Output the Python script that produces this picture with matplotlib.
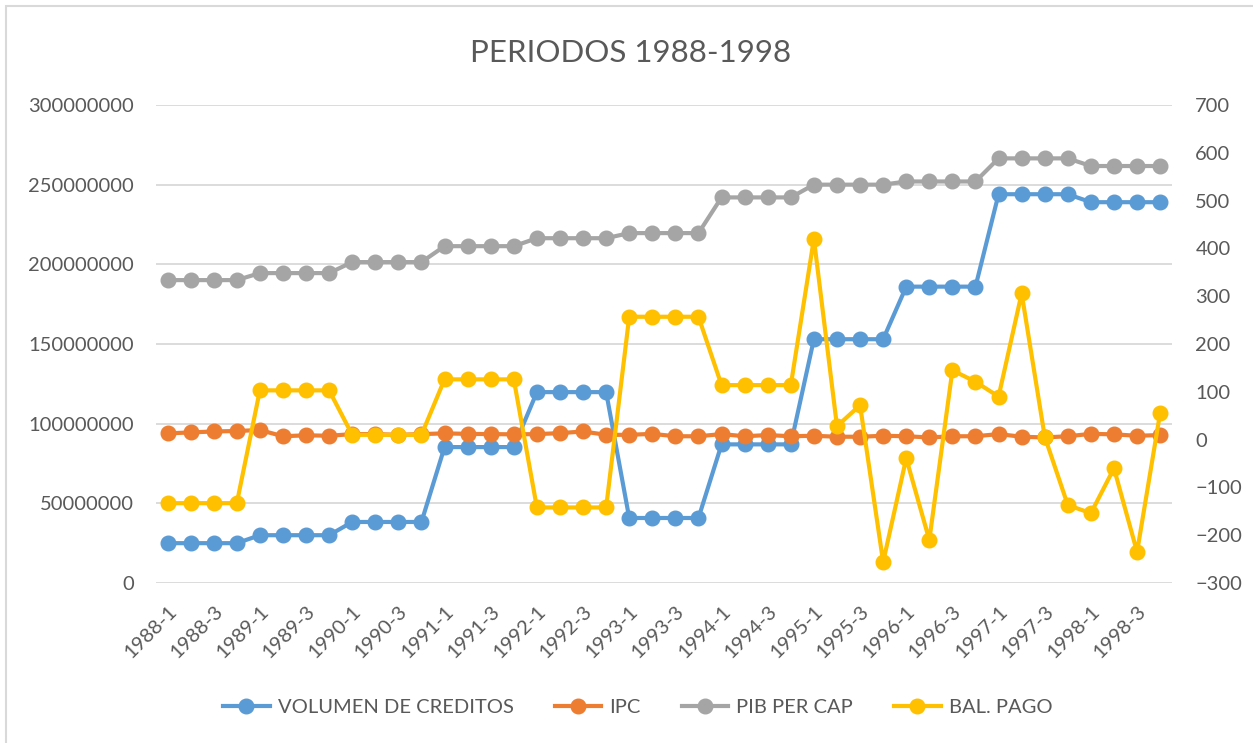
import matplotlib
matplotlib.use("Agg")
import matplotlib.pyplot as plt
from matplotlib.patches import Rectangle
from matplotlib.ticker import MultipleLocator, FuncFormatter

plt.rcParams['font.family'] = ['Lato', 'DejaVu Sans']

# quarters 1988-1 .. 1998-4
years = list(range(1988, 1999))
periodos = [f"{y}-{q}" for y in years for q in (1, 2, 3, 4)]

volumen = [25e6, 25e6, 25e6, 25e6,
           30e6, 30e6, 30e6, 30e6,
           38.3e6, 38.3e6, 38.3e6, 38.3e6,
           85.3e6, 85.3e6, 85.3e6, 85.3e6,
           119.8e6, 119.8e6, 119.8e6, 119.8e6,
           40.8e6, 40.8e6, 40.8e6, 40.8e6,
           87e6, 87e6, 87e6, 87e6,
           153e6, 153e6, 153e6, 153e6,
           186e6, 186e6, 186e6, 186e6,
           244e6, 244e6, 244e6, 244e6,
           239e6, 239e6, 239e6, 239e6]

pib = [190.1e6, 190.1e6, 190.1e6, 190.1e6,
       194.5e6, 194.5e6, 194.5e6, 194.5e6,
       201.4e6, 201.4e6, 201.4e6, 201.4e6,
       211.4e6, 211.4e6, 211.4e6, 211.4e6,
       216.4e6, 216.4e6, 216.4e6, 216.4e6,
       219.6e6, 219.6e6, 219.6e6, 219.6e6,
       242e6, 242e6, 242e6, 242e6,
       250e6, 250e6, 250e6, 250e6,
       252e6, 252e6, 252e6, 252e6,
       266.5e6, 266.5e6, 266.5e6, 266.5e6,
       261.7e6, 261.7e6, 261.7e6, 261.7e6]

ipc = [13, 15, 17, 18,
       20, 7, 9, 8,
       11.5, 11.5, 10, 11.5,
       13, 12, 11.5, 11,
       11.5, 13.5, 17, 10,
       10, 12, 7, 7,
       11.5, 7, 9.5, 7,
       8, 6, 6, 8,
       7, 4.5, 7, 7,
       11.5, 6, 4.5, 7,
       12, 11, 8, 9.5]

bal_pago = [-133, -133, -133, -133,
            103, 103, 103, 103,
            10, 10, 10, 10,
            126, 126, 126, 126,
            -142, -142, -142, -142,
            257, 257, 257, 257,
            114, 114, 114, 114,
            420, 28, 72, -256,
            -39, -210, 145, 121,
            90, 306, 6, -137,
            -154, -60, -235, 56]

W, H = 1253, 743
fig = plt.figure(figsize=(W / 100, H / 100), dpi=100)
ax = fig.add_axes([156 / W, 1 - 583 / H, (1171.7 - 156) / W, (583 - 105) / H])
ax2 = ax.twinx()

text_col = '#595959'
grid_col = '#d9d9d9'
x = list(range(len(periodos)))
lw, ms = 3.0, 10.5

l1, = ax.plot(x, volumen, color='#5B9BD5', lw=lw, marker='o', ms=ms, label='VOLUMEN DE CREDITOS')
l3, = ax.plot(x, pib, color='#A5A5A5', lw=lw, marker='o', ms=ms, label='PIB PER CAP')
l2, = ax2.plot(x, ipc, color='#ED7D31', lw=lw, marker='o', ms=ms, label='IPC')
l4, = ax2.plot(x, bal_pago, color='#FFC000', lw=lw, marker='o', ms=ms, label='BAL. PAGO')

ax.set_xlim(-0.5, len(periodos) - 0.5)
ax.set_ylim(0, 300e6)
ax2.set_ylim(-300, 700)
ax.yaxis.set_major_locator(MultipleLocator(50e6))
ax2.yaxis.set_major_locator(MultipleLocator(100))
ax.yaxis.set_major_formatter(FuncFormatter(lambda v, p: f"{int(round(v))}"))
ax.grid(axis='y', color=grid_col, lw=1.3)
ax.set_axisbelow(True)

ax.set_xticks(x[::2])
ax.set_xticklabels(periodos[::2], rotation=45, ha='right', rotation_mode='anchor')

for a in (ax, ax2):
    for s in a.spines.values():
        s.set_visible(False)
    a.tick_params(length=0, labelsize=14.5, labelcolor=text_col)
ax.tick_params(axis='y', pad=16)
ax2.tick_params(axis='y', pad=17)
ax.tick_params(axis='x', pad=14)

fig.text(0.503, 1 - 53 / H, 'PERIODOS 1988-1998', ha='center', va='center',
         fontsize=22.5, color=text_col)

fig.legend([l1, l2, l3, l4], [h.get_label() for h in (l1, l2, l3, l4)],
           loc='center', bbox_to_anchor=(0.509, 1 - 707 / H), ncol=4, frameon=False,
           fontsize=14.5, labelcolor=text_col, handlelength=2.3, handletextpad=0.4,
           columnspacing=2.05, numpoints=1)

fig.patches.append(Rectangle((6 / W, -0.05), 1.2, 1 - 6 / H + 0.05, transform=fig.transFigure,
                             fill=False, edgecolor=grid_col, lw=1.5))

fig.savefig('out.png', dpi=100, facecolor='white')
